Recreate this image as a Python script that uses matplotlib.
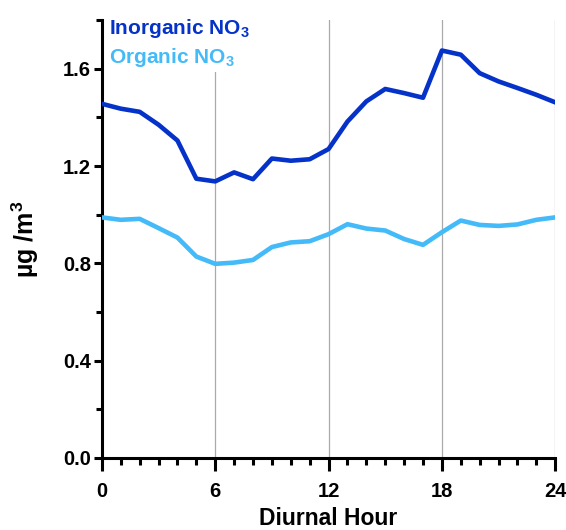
import numpy as np
import matplotlib
matplotlib.use("Agg")
import matplotlib.pyplot as plt
from matplotlib.ticker import MultipleLocator

plt.rcParams['font.family'] = ['Liberation Sans', 'DejaVu Sans']
plt.rcParams['font.weight'] = 'bold'
plt.rcParams['mathtext.fontset'] = 'custom'
plt.rcParams['mathtext.rm'] = 'Liberation Sans:bold'
plt.rcParams['mathtext.it'] = 'Liberation Sans:bold'
plt.rcParams['mathtext.bf'] = 'Liberation Sans:bold'

# diurnal hours and concentrations (ug/m3)
hours = list(range(25))
inorganic = [1.456, 1.436, 1.423, 1.370, 1.305, 1.148, 1.137, 1.174, 1.146,
             1.231, 1.222, 1.228, 1.270, 1.383, 1.466, 1.517, 1.500, 1.481,
             1.675, 1.658, 1.582, 1.548, 1.521, 1.493, 1.462]
organic = [0.989, 0.979, 0.983, 0.945, 0.906, 0.828, 0.798, 0.803, 0.814,
           0.867, 0.886, 0.891, 0.920, 0.961, 0.943, 0.935, 0.900, 0.876,
           0.928, 0.976, 0.958, 0.954, 0.960, 0.979, 0.989]
labels = [r"Inorganic NO$_3$", r"Organic NO$_3$"]
colors = ['#0532C8', '#44BBF8']

fig = plt.figure(figsize=(5.66, 5.30), dpi=100)
ax = fig.add_axes([0.180, 0.136, 0.801, 0.826])

ax.plot(hours, inorganic, color=colors[0], lw=3.3, label=labels[0], zorder=3)
ax.plot(hours, organic, color=colors[1], lw=3.3, label=labels[1], zorder=3)

ax.set_xlim(0, 24)
ax.set_ylim(0, 1.8)
ax.xaxis.set_major_locator(MultipleLocator(6))
ax.xaxis.set_minor_locator(MultipleLocator(1))
ax.yaxis.set_minor_locator(MultipleLocator(0.2))
ax.set_yticks([0, 0.4, 0.8, 1.2, 1.6])
ax.set_yticklabels(['0.0', '0.4', '0.8', '1.2', '1.6'])

ax.grid(axis='x', which='major', color='#aaaaaa', lw=0.9, zorder=1)

for s in ['top', 'right']:
    ax.spines[s].set_visible(False)
for s in ['left', 'bottom']:
    ax.spines[s].set_linewidth(2.2)

ax.tick_params(axis='x', which='major', length=9, width=2.2, labelsize=14.5, pad=8)
ax.tick_params(axis='x', which='minor', length=5, width=2.2)
ax.tick_params(axis='y', which='major', length=6, width=2.2, labelsize=14.5, pad=2)
ax.tick_params(axis='y', which='minor', length=4, width=2.2)

ax.set_xlabel('Diurnal Hour', fontsize=16.5, fontweight='bold', labelpad=5)
ax.set_ylabel(r'µg /m$^3$', fontsize=18, fontweight='bold', labelpad=16)

leg = ax.legend(loc='upper left', bbox_to_anchor=(0.008, 1.015),
                handlelength=0, handletextpad=0,
                frameon=True, fontsize=15, labelcolor='linecolor',
                borderaxespad=0.0, borderpad=0.15, labelspacing=0.3)
leg.get_frame().set_facecolor('white')
leg.get_frame().set_edgecolor('none')
leg.get_frame().set_alpha(1)
for h in leg.legend_handles:
    h.set_visible(False)

fig.savefig('out.png', dpi=100)
